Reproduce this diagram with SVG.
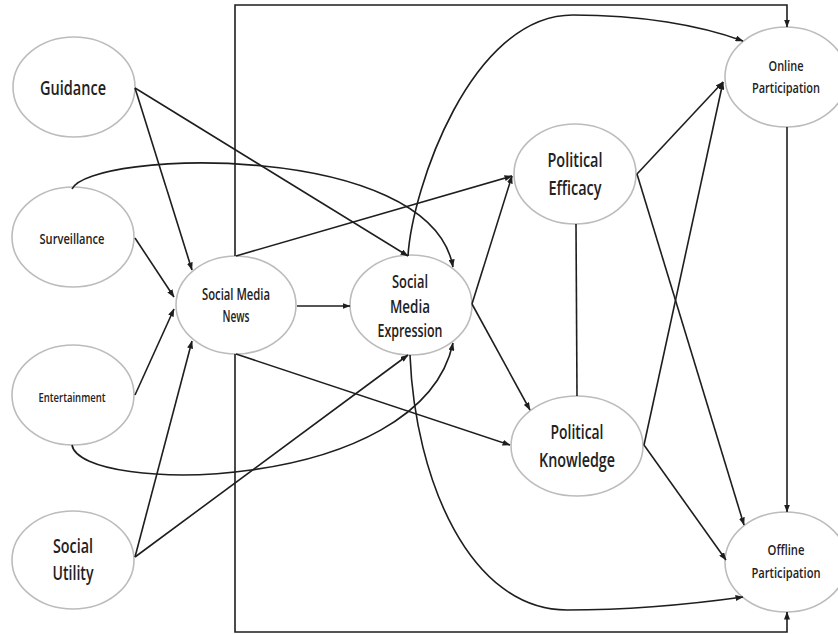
<svg xmlns="http://www.w3.org/2000/svg" width="838" height="634" viewBox="0 0 838 634">
  <style>
    .node ellipse { fill: #ffffff; stroke: #bcbcbc; stroke-width: 1.6; }
    .node text { font-family: "Open Sans", "Liberation Sans", sans-serif; font-weight: 600; fill: #222222; text-anchor: middle; }
    .edge { fill: none; stroke: #1e1e1e; stroke-width: 1.6; }
    .arrow { marker-end: url(#head); }
  </style>
  <defs>
    <marker id="head" viewBox="0 0 8 6" refX="7.5" refY="3" markerWidth="8" markerHeight="6" markerUnits="userSpaceOnUse" orient="auto">
      <path d="M0,0 L8,3 L0,6 z" fill="#1e1e1e"/>
    </marker>
  </defs>

  <rect width="838" height="634" fill="#ffffff"/>

  <!-- gratification nodes -->
  <g id="guidance" class="node">
    <ellipse cx="74" cy="87" rx="61" ry="50"/>
    <text x="73" y="95" font-size="20" textLength="66" lengthAdjust="spacingAndGlyphs">Guidance</text>
  </g>
  <g id="surveillance" class="node">
    <ellipse cx="73" cy="237" rx="61" ry="50"/>
    <text x="72" y="244" font-size="15" textLength="65" lengthAdjust="spacingAndGlyphs">Surveillance</text>
  </g>
  <g id="entertainment" class="node">
    <ellipse cx="73" cy="395" rx="61" ry="50"/>
    <text x="72" y="402" font-size="13" textLength="67" lengthAdjust="spacingAndGlyphs">Entertainment</text>
  </g>
  <g id="social-utility" class="node">
    <ellipse cx="73" cy="560" rx="61" ry="49"/>
    <text x="73" y="553" font-size="20" textLength="40" lengthAdjust="spacingAndGlyphs">Social</text>
    <text x="73" y="580" font-size="20" textLength="41" lengthAdjust="spacingAndGlyphs">Utility</text>
  </g>

  <!-- social media use -->
  <g id="sm-news" class="node">
    <ellipse cx="236" cy="305" rx="60" ry="49"/>
    <text x="236" y="300" font-size="16" textLength="68" lengthAdjust="spacingAndGlyphs">Social Media</text>
    <text x="236" y="322" font-size="16" textLength="27" lengthAdjust="spacingAndGlyphs">News</text>
  </g>
  <g id="sm-expression" class="node">
    <ellipse cx="411" cy="305" rx="61" ry="50"/>
    <text x="410" y="288" font-size="18" textLength="36" lengthAdjust="spacingAndGlyphs">Social</text>
    <text x="410" y="313" font-size="18" textLength="40" lengthAdjust="spacingAndGlyphs">Media</text>
    <text x="410" y="337" font-size="18" textLength="65" lengthAdjust="spacingAndGlyphs">Expression</text>
  </g>

  <!-- political mediators -->
  <g id="efficacy" class="node">
    <ellipse cx="575" cy="174" rx="61" ry="50"/>
    <text x="575" y="167" font-size="20" textLength="55" lengthAdjust="spacingAndGlyphs">Political</text>
    <text x="575" y="195" font-size="20" textLength="53" lengthAdjust="spacingAndGlyphs">Efficacy</text>
  </g>
  <g id="knowledge" class="node">
    <ellipse cx="577" cy="446" rx="66" ry="50"/>
    <text x="577" y="439" font-size="20" textLength="53" lengthAdjust="spacingAndGlyphs">Political</text>
    <text x="577" y="467" font-size="20" textLength="76" lengthAdjust="spacingAndGlyphs">Knowledge</text>
  </g>

  <!-- participation outcomes -->
  <g id="online" class="node">
    <ellipse cx="786" cy="77" rx="61" ry="50"/>
    <text x="786" y="71" font-size="14" textLength="35" lengthAdjust="spacingAndGlyphs">Online</text>
    <text x="786" y="93" font-size="14" textLength="68" lengthAdjust="spacingAndGlyphs">Participation</text>
  </g>
  <g id="offline" class="node">
    <ellipse cx="786" cy="562" rx="61" ry="50"/>
    <text x="786" y="555" font-size="14" textLength="37" lengthAdjust="spacingAndGlyphs">Offline</text>
    <text x="786" y="578" font-size="14" textLength="69" lengthAdjust="spacingAndGlyphs">Participation</text>
  </g>

  <g id="connectors">
    <!-- gratifications to social media news / expression -->
    <line class="edge arrow" x1="135" y1="88" x2="192" y2="270"/>
    <line class="edge arrow" x1="135" y1="88" x2="408" y2="256"/>
    <line class="edge arrow" x1="135" y1="238" x2="174" y2="297"/>
    <path class="edge arrow" d="M72,189 C90,150 430,140 453,267"/>
    <line class="edge arrow" x1="135" y1="395" x2="174" y2="309"/>
    <path class="edge arrow" d="M72,445 C80,495 420,495 453,343"/>
    <line class="edge arrow" x1="135" y1="557" x2="192" y2="341"/>
    <line class="edge arrow" x1="135" y1="557" x2="408" y2="355"/>

    <!-- news to expression and mediators -->
    <line class="edge arrow" x1="297" y1="306" x2="350" y2="306"/>
    <line class="edge arrow" x1="236" y1="256" x2="512" y2="176"/>
    <line class="edge arrow" x1="236" y1="354" x2="510" y2="445"/>

    <!-- expression to mediators and outcomes -->
    <line class="edge arrow" x1="472" y1="304" x2="512" y2="176"/>
    <line class="edge arrow" x1="472" y1="304" x2="530" y2="410"/>
    <path class="edge arrow" d="M408,256 C412,190 470,15 573,15 C640,15 700,25 743,41"/>
    <path class="edge arrow" d="M410,355 C415,480 470,610 567,610 C640,610 700,603 743,597"/>

    <!-- mediators to outcomes -->
    <line class="edge arrow" x1="637" y1="174" x2="723" y2="82"/>
    <line class="edge arrow" x1="637" y1="174" x2="744" y2="525"/>
    <line class="edge" x1="576" y1="224" x2="577" y2="396"/>
    <line class="edge arrow" x1="644" y1="445" x2="723" y2="82"/>
    <line class="edge arrow" x1="644" y1="445" x2="726" y2="560"/>
    <line class="edge arrow" x1="787" y1="127" x2="787" y2="512"/>

    <!-- direct news paths routed around the frame -->
    <path class="edge arrow" d="M235,256 V5 H787 V27"/>
    <path class="edge arrow" d="M235,354 V632 H787 V612"/>
  </g>
</svg>
